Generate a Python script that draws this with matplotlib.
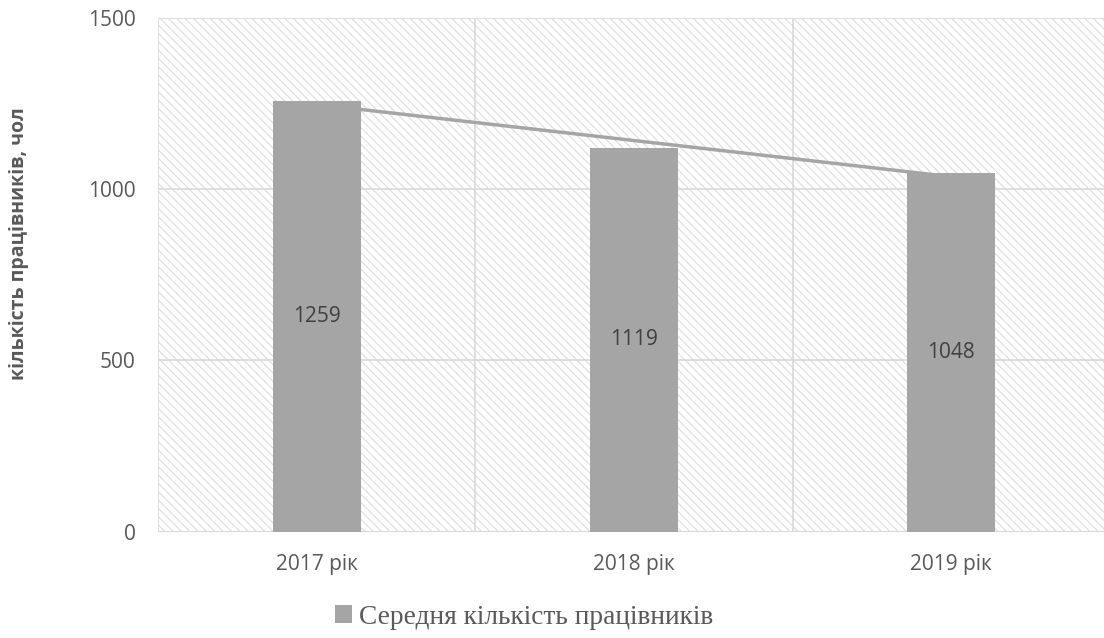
import matplotlib
matplotlib.use("Agg")
import matplotlib.pyplot as plt
import numpy as np
from matplotlib.patches import Rectangle, Patch

# Data
categories = ["2017 рік", "2018 рік", "2019 рік"]
workers = [1259, 1119, 1048]
yticks = [0, 500, 1000, 1500]
series_name = "Середня кількість працівників"
ylabel = "кількість працівників, чол"

BAR = "#A5A5A5"
GRID = "#D9D9D9"
TXT = "#595959"

plt.rcParams["hatch.linewidth"] = 0.7
plt.rcParams["hatch.color"] = GRID

fig = plt.figure(figsize=(11.04, 6.38), dpi=100)
ax = fig.add_axes([158 / 1104, 1 - 531.5 / 638, (1110 - 158) / 1104, (531.5 - 18) / 638])

x = np.arange(len(categories))

# hatched plot-area background
ax.add_patch(Rectangle((0, 0), 1, 1, transform=ax.transAxes, facecolor="white",
                       edgecolor=GRID, linewidth=0, hatch="\\\\\\\\", zorder=0))

# gridlines: horizontal at value ticks, vertical at category boundaries
ax.set_ylim(0, 1500)
ax.set_xlim(-0.5, len(categories) - 0.5)
ax.set_yticks(yticks)
ax.set_xticks(x)
ax.set_xticks([i - 0.5 for i in range(len(categories) + 1)], minor=True)
ax.set_axisbelow(True)
ax.grid(axis="y", which="major", color=GRID, linewidth=1.2, zorder=0.5)
ax.grid(axis="x", which="minor", color=GRID, linewidth=1.2, zorder=0.5)
ax.grid(axis="x", which="major", visible=False)
ax.axhline(0, color=GRID, linewidth=1.6, zorder=0.6)
for s in ax.spines.values():
    s.set_visible(False)

# linear trend line of the series, drawn behind the bars
slope, intercept = np.polyfit(x, workers, 1)
ax.plot(x, slope * x + intercept, color=BAR, linewidth=2.5, solid_capstyle="butt", zorder=1)

# bars
ax.bar(x, workers, width=0.277, color=BAR, zorder=2)

# value labels centred in bars
for xi, v in zip(x, workers):
    ax.text(xi, v / 2, f"{v}", ha="center", va="center", fontsize=15,
            family="Open Sans", color="#404040", zorder=3)

ax.set_xticklabels(categories, family="Open Sans", fontsize=15, color=TXT)
ax.set_yticklabels([str(t) for t in yticks], family="Open Sans", fontsize=15, color=TXT)
ax.tick_params(axis="both", which="both", length=0)
ax.tick_params(axis="y", pad=16)
ax.tick_params(axis="x", pad=16)

fig.text(19 / 1104, 1 - 244 / 638, ylabel, rotation=90, ha="center", va="center",
         family="Open Sans", fontweight="bold", fontsize=14, color=TXT)

handle = Patch(facecolor=BAR, edgecolor="none")
fig.legend([handle], [series_name], loc="center", bbox_to_anchor=(524 / 1104, 1 - 617 / 638),
           frameon=False, handlelength=0.6, handleheight=0.6, handletextpad=0.25,
           prop={"family": "Liberation Serif", "size": 19.7}, labelcolor=TXT)

fig.savefig("out.png", dpi=100)
